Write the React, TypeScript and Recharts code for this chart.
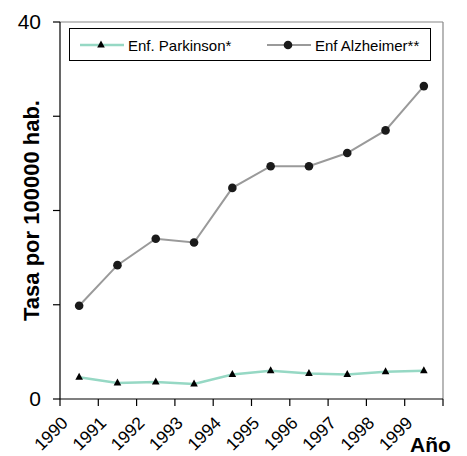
import React from 'react';
import { LineChart, Line, XAxis, YAxis, ReferenceLine } from 'recharts';

// values
const years = [1990, 1991, 1992, 1993, 1994, 1995, 1996, 1997, 1998, 1999];
const parkinson = [2.3, 1.7, 1.8, 1.6, 2.6, 3.0, 2.7, 2.6, 2.9, 3.0];
const alzheimer = [9.9, 14.2, 17.0, 16.6, 22.4, 24.7, 24.7, 26.1, 28.5, 33.2];
const xTicks = [1990, 1991, 1992, 1993, 1994, 1995, 1996, 1997, 1998, 1999, 2000];
const yTicks = [0, 10, 20, 30, 40];

// points sit in the middle of each year slot
const data = years.map((y, i) => ({
  x: y + 0.5,
  parkinson: parkinson[i],
  alzheimer: alzheimer[i],
}));

const FONT = '"Liberation Sans", Arial, sans-serif';
const MINT = '#96d8c4';
const GREY = '#9a9a9a';

// tick labels: rotated 45deg, right end hanging just under each boundary tick
const YearTick = (props: any) => {
  const { x, payload } = props;
  if (payload.value === 2000) return null;
  return (
    <text
      x={x + 9}
      y={424}
      textAnchor="end"
      transform={`rotate(-45, ${x + 9}, 424)`}
      style={{ fontSize: '17.5px', fontFamily: FONT }}
      fill="#000"
    >
      {payload.value}
    </text>
  );
};

const Triangle = (props: any) => {
  const { cx, cy } = props;
  if (cx == null || cy == null) return null;
  return <path d={`M${cx},${cy - 4.5} L${cx + 3.8},${cy + 2.5} L${cx - 3.8},${cy + 2.5} Z`} fill="#000" />;
};

const renderYLabel = (props: any) => {
  const { x, y, height } = props.viewBox;
  const cx = x + 31;
  const cy = y + height / 2;
  return (
    <text x={cx} y={cy} transform={`rotate(-90, ${cx}, ${cy})`} textAnchor="middle" dominantBaseline="central"
      fontSize={22} fontWeight="bold" fontFamily={FONT} fill="#000">
      Tasa por 100000 hab.
    </text>
  );
};

const renderXLabel = (props: any) => {
  const { x, y, width } = props.viewBox;
  return (
    <text x={x + width - 33} y={y + 53} fontSize={21} fontWeight="bold" fontFamily={FONT} fill="#000">
      Año
    </text>
  );
};

const LegendBox = () => (
  <div style={{ position: 'absolute', left: 69, top: 28, width: 360, height: 31, border: '1px solid #000' }}>
    <svg width={360} height={31} style={{ position: 'absolute', left: 0, top: 0 }}>
      <line x1={10} y1={16} x2={54} y2={16} stroke={MINT} strokeWidth={2.5} />
      <path d="M31,11.5 L34.8,18.5 L27.2,18.5 Z" fill="#000" />
      <text x={58} y={21.5} fontSize={15} fontFamily={FONT}>Enf. Parkinson*</text>
      <line x1={197} y1={16} x2={241} y2={16} stroke={GREY} strokeWidth={2} />
      <circle cx={218} cy={16} r={4.3} fill="#1a1a1a" />
      <text x={245} y={21.5} fontSize={15} fontFamily={FONT}>Enf Alzheimer**</text>
    </svg>
  </div>
);

export default function App() {
  return (
    <div style={{ position: 'absolute', left: 0, top: 0, width: 467, height: 456, background: '#fff' }}>
      <LineChart width={467} height={456} data={data} margin={{ top: 22, right: 24, left: 0, bottom: 0 }}>
        <XAxis dataKey="x" type="number" domain={[1990, 2000]} ticks={xTicks} interval={0} height={57}
          tick={<YearTick />} tickSize={7} tickMargin={0}
          axisLine={{ stroke: '#000', strokeWidth: 1.2 }} tickLine={{ stroke: '#000', strokeWidth: 1.2 }}
          label={{ content: renderXLabel }} />
        <YAxis type="number" domain={[0, 40]} ticks={yTicks} interval={0} width={60} tickSize={7} tickMargin={12}
          tickFormatter={(v: number) => (v === 0 || v === 40 ? String(v) : '')}
          tick={{ fontSize: 21, fontFamily: FONT, fill: '#000' }}
          axisLine={{ stroke: '#000', strokeWidth: 1.2 }} tickLine={{ stroke: '#000', strokeWidth: 1.2 }}
          label={{ content: renderYLabel }} />
        <ReferenceLine y={40} stroke="#888" strokeWidth={1.2} />
        <ReferenceLine x={2000} stroke="#888" strokeWidth={1.2} />
        <Line dataKey="parkinson" stroke={MINT} strokeWidth={2.5} dot={<Triangle />} activeDot={false} isAnimationActive={false} />
        <Line dataKey="alzheimer" stroke={GREY} strokeWidth={2}
          dot={{ r: 4.3, fill: '#1a1a1a', stroke: '#1a1a1a', strokeWidth: 0 }} activeDot={false} isAnimationActive={false} />
      </LineChart>
      <LegendBox />
    </div>
  );
}
